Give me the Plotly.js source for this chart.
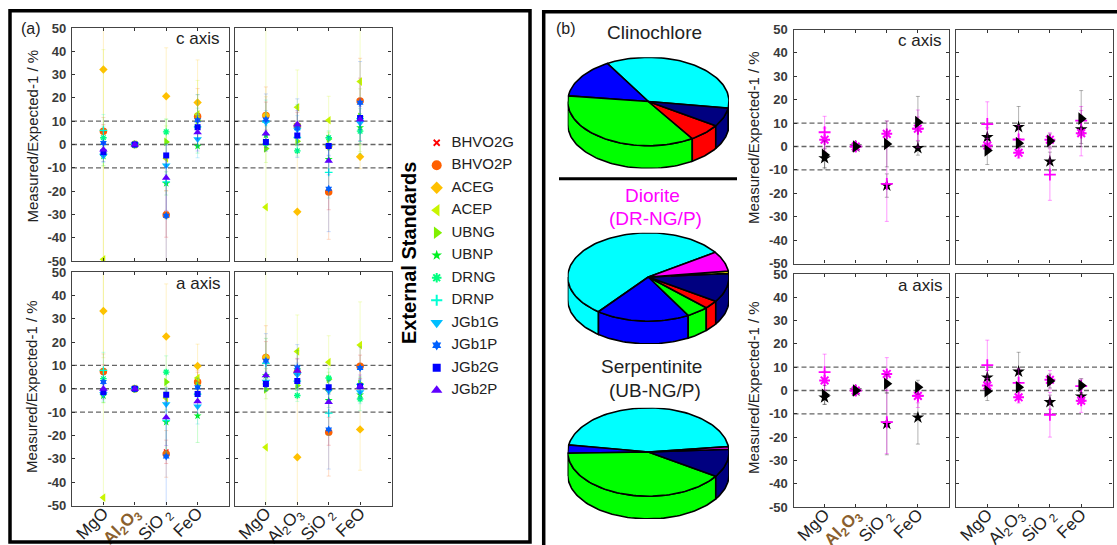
<!DOCTYPE html>
<html>
<head>
<meta charset="utf-8">
<script src="https://cdn.plot.ly/plotly-3.0.1.min.js"></script>
<style>html,body{margin:0;padding:0;background:#fff}#chart{width:1117px;height:545px}</style>
</head>
<body>
<div id="chart"></div>
<script>
// ---------- data ----------
const seriesNames = ['BHVO2G','BHVO2P','ACEG','ACEP','UBNG','UBNP','DRNG','DRNP','JGb1G','JGb1P','JGb2G','JGb2P'];
const categories = ['MgO','Al2O3','SiO2','FeO'];
const yTicks = [-50,-40,-30,-20,-10,0,10,20,30,40,50];
const refLevels = [-10,0,10];

// rows follow seriesNames, columns follow categories (percent)
const cLeftValues = [
 [5.6,0,-29.8,12.5],[5.7,0,-30.3,12],[32.2,0,20.7,18],[-49.3,0,-6,13],
 [-3.6,0,1.1,10.4],[-5,0,-16.7,-0.7],[2.9,0,5.4,7.6],[6.1,0,-16,7.6],
 [-4.8,0,-9,2.3],[0.6,0,-30.6,10.4],[-3.3,0,-4.7,7.4],[-2.2,0,-14.3,5.2]];
const cLeftErrors = [
 [3,0.5,10,6],[5.9,0.5,25,12],[90,0.5,20.8,18.3],[90,0.5,14,14.5],
 [6,0.5,9.8,11],[4,0.5,5,3],[5,1,5.5,8],[6.8,1,16,5],
 [3,0.5,4,8],[5,0.5,25,11],[4,0.5,5,5],[3,0.5,14,8]];
const cRightValues = [
 [12.2,7.8,-20,18.5],[12.4,7.9,-20.4,18.7],[12.5,-28.9,-1,-5.3],[-26.9,16,10.4,27],
 [-1.7,1.4,2.4,11.9],[4,8.3,-6.4,7.3],[0.4,-2.7,2.9,5.7],[9.6,3,-12,11.1],
 [9.6,6.4,-1,9.3],[10.7,7,-19,17.9],[1.1,3.9,-0.6,11.4],[4.7,8.6,-7,10.7]];
const cRightErrors = [
 [6,6,8,10],[12.3,8,20.3,18.3],[8,25,6,5.1],[90,16,10.3,30],
 [6,2,3,12],[4,8.8,4,6],[3,2.3,3,9.7],[9.5,6,11,6],
 [5,6,4,8],[11,12.6,18.4,17.7],[4,4,4,5],[6,6,6,9]];
const aLeftValues = [
 [7.3,0,-27,3.1],[7.4,0,-27.9,2.9],[33.3,0,22.4,9.7],[-46.6,0,-4,4.6],
 [-1.9,0,2.9,1.4],[-3,0,-14.3,-11.6],[4.3,0,7.1,-2.3],[7.9,0,-13.6,-2.3],
 [-2.3,0,-6.6,-7.6],[2.9,0,-29,0.6],[-1.4,0,-2.6,-2.3],[0,0,-12.3,-5.4]];
const aLeftErrors = [
 [3,0.5,5,4],[7.5,0.5,10,5],[20,0.5,22.5,9.4],[100,0.5,5,5],
 [4,0.5,4,3],[3,0.5,13.3,11.4],[4,0.5,7,5],[7.7,0.5,13.5,3],
 [3,0.5,3,7.5],[3,0.5,25,4],[3,0.5,3,3],[3,0.5,12,5]];
const aRightValues = [
 [13.2,7,-18.2,9.4],[13.4,7,-18.6,9.6],[13.5,-29.3,-0.4,-17.4],[-25.1,16,11.4,18.7],
 [-0.3,1.4,4.1,2.1],[5.6,8.1,-5,-2.6],[2.1,-2.9,4.6,-4.4],[10.9,3.3,-10.4,1.9],
 [3.1,6,-0.9,-1.4],[12,9.1,-17.4,8.9],[2,3.3,0.6,1.1],[5.7,7.7,-5.7,0.9]];
const aRightErrors = [
 [7,6,6,5],[13.6,9,18.8,9],[8,25,5,17.5],[80,15.6,11.3,18.5],
 [4,2,3,3],[3,8.3,3,3],[3,2.5,4,5],[10.7,6,9.6,3],
 [4,5,4,5],[11.6,9.8,17,9],[3,3,3,3],[5,5,5,5]];

// pie shares: degrees of the drawn ellipse, counter-clockwise from the start angle
const clinochloreSlices = [129.2,52.1,130.3,23.7,24.7];
const clinochloreColors = ['#00ffff','#0000ff','#00ff00','#ff0000','#000080'];
const clinochloreStart = 351.4;
const dioriteSlices = [197.9,67.8,16.3,10.8,38,3.1,26.1];
const dioriteColors = ['#00ffff','#0000ff','#00ff00','#ff0000','#000080','#ffff00','#ff00ff'];
const dioriteStart = 33.9;
const serpentiniteSlices = [163.8,10.9,145,36.8,3.5];
const serpentiniteColors = ['#00ffff','#0000ff','#00ff00','#000080','#ff00ff'];
const serpentiniteStart = 7;

// ---------- styles ----------
const W = 1117, H = 545;
const FONT = '"Liberation Sans", Arial, sans-serif';
const seriesColors = ['255,0,0','255,96,0','255,192,0','200,245,0','128,240,0','0,240,32','0,255,128','0,255,210','0,190,255','0,96,255','0,0,255','96,0,255'];
const seriesSymbols = ['x-thin-open','circle','diamond','triangle-left','triangle-right','star','asterisk-open','cross-thin-open','triangle-down','hexagram','square','triangle-up'];
const seriesSizes = [4.5,7.5,6.5,7.5,7.5,6,5.5,5.5,7.5,6,6,7.5];
const legendSizes = [6,10,9.5,11,11,8,8,8,11,8,8,10];
const openSymbols = [0,6,7];

const traces = [], shapes = [], annotations = [];
const layout = {
  width: W, height: H, autosize: false, showlegend: false,
  margin: {l:0,r:0,t:0,b:0,pad:0},
  paper_bgcolor: '#fff', plot_bgcolor: '#fff',
  font: {family: FONT, color: '#222'}, shapes, annotations
};

function px(x0,x1,y0,y1){ return {x:[x0/W,x1/W], y:[1-y1/H,1-y0/H]}; }
function note(text,x,y,size,opts){
  annotations.push(Object.assign({text,xref:'paper',yref:'paper',x:x/W,y:1-y/H,showarrow:false,
    xanchor:'center',yanchor:'middle',font:{size,family:FONT,color:'#222'}},opts||{}));
}

let axisIndex = 0;
function newAxes(box, xOpts, yOpts){
  axisIndex++;
  const n = axisIndex === 1 ? '' : String(axisIndex);
  const d = px(...box);
  layout['xaxis'+n] = Object.assign({domain:d.x, anchor:'y'+n}, xOpts);
  layout['yaxis'+n] = Object.assign({domain:d.y, anchor:'x'+n}, yOpts);
  return {x:'x'+n, y:'y'+n};
}

const plainLabels = ['MgO','Al<sub>2</sub>O<sub>3</sub>','SiO<sub> 2</sub>','FeO'];
const brownLabels = ['MgO','<b><span style="color:#8a5f2e">Al<sub>2</sub>O<sub>3</sub></span></b>','SiO<sub> 2</sub>','FeO'];

function panel(box, opts){
  const frame = {showline:true, mirror:'ticks', linecolor:'#444', linewidth:1.2, ticks:'inside',
    ticklen:3, tickwidth:1, tickcolor:'#333', showgrid:false, zeroline:false, fixedrange:true};
  const a = newAxes(box,
    Object.assign({}, frame, {range:[0,5], tickmode:'array', tickvals:[1,2,3,4], ticktext:opts.labels||categories,
      showticklabels:!!opts.labels, tickangle:-45, ticklabelstandoff:-10, tickfont:{size:17,color:'#222',family:FONT}}),
    Object.assign({}, frame, {range:[-50,50], tickmode:'array', tickvals:yTicks, ticktext:yTicks.map(String),
      showticklabels:!!opts.yLabels, ticklabelstandoff:2, tickfont:{size:13,color:'#3a3a3a',family:FONT,weight:700}}));
  refLevels.forEach(v => shapes.push({type:'line', layer:'below', xref:a.x+' domain', yref:a.y, x0:0, x1:1, y0:v, y1:v,
    line:{color:'#666', width:v===0?1.6:1.3, dash:'5px,3px'}}));
  return a;
}

function rainbowPanel(box, values, errors, opts){
  const a = panel(box, opts);
  seriesNames.forEach((name,i) => {
    const open = openSymbols.includes(i);
    traces.push({type:'scatter', mode:'markers', name, xaxis:a.x, yaxis:a.y, x:[1,2,3,4], y:values[i],
      error_y:{type:'data', array:errors[i], visible:true, color:`rgba(${seriesColors[i]},0.22)`, thickness:1, width:2},
      marker:{symbol:seriesSymbols[i], size:seriesSizes[i], color:`rgb(${seriesColors[i]})`,
        line: open ? {color:`rgb(${seriesColors[i]})`, width:1.3} : {width:0}}});
  });
}

// panel (b) repeats UB and DR series, recoloured by rock
function rockPanel(box, values, errors, opts){
  const a = panel(box, opts);
  const styles = {
    5:{symbol:'star', size:9.5, color:'#000', err:'rgba(0,0,0,0.3)', line:{width:0}},
    6:{symbol:'asterisk-open', size:9, color:'#ff00ff', err:'rgba(255,0,255,0.4)', line:{color:'#ff00ff',width:2}},
    7:{symbol:'cross-thin-open', size:8.5, color:'#ff00ff', err:'rgba(255,0,255,0.4)', line:{color:'#ff00ff',width:1.8}},
    4:{symbol:'triangle-right', size:11, color:'#000', err:'rgba(0,0,0,0.3)', line:{width:0}}
  };
  [5,6,7,4].forEach(i => {
    const s = styles[i];
    traces.push({type:'scatter', mode:'markers', name:seriesNames[i], xaxis:a.x, yaxis:a.y, x:[1,2,3,4], y:values[i],
      error_y:{type:'data', array:errors[i], visible:true, color:s.err, thickness:1, width:2},
      marker:{symbol:s.symbol, size:s.size, color:s.color, line:s.line}});
  });
}

rainbowPanel([72,229,28,261], cLeftValues, cLeftErrors, {yLabels:true});
rainbowPanel([234.5,391.5,28,261], cRightValues, cRightErrors, {});
rainbowPanel([72,229,272,505.5], aLeftValues, aLeftErrors, {yLabels:true, labels:brownLabels});
rainbowPanel([234.5,391.5,272,505.5], aRightValues, aRightErrors, {labels:plainLabels});
rockPanel([793.5,949,29.5,263.5], cLeftValues, cLeftErrors, {yLabels:true});
rockPanel([956,1112.5,29.5,263.5], cRightValues, cRightErrors, {});
rockPanel([793.5,949,274,507], aLeftValues, aLeftErrors, {yLabels:true, labels:brownLabels});
rockPanel([956,1112.5,274,507], aRightValues, aRightErrors, {labels:plainLabels});

// ---------- legend ----------
const hidden = {visible:false, fixedrange:true};
const lg = newAxes([425,530,131.5,401.5],
  Object.assign({range:[425,530]},hidden), Object.assign({range:[11.5,-0.5]},hidden));
const rows = seriesNames.map((_,i)=>i);
seriesNames.forEach((name,i) => {
  const open = openSymbols.includes(i);
  traces.push({type:'scatter', mode:'markers', name, xaxis:lg.x, yaxis:lg.y, x:[436.7], y:[i], hoverinfo:'name',
    marker:{symbol:seriesSymbols[i], size:legendSizes[i], color:`rgb(${seriesColors[i]})`,
      line: open ? {color:`rgb(${seriesColors[i]})`, width:i===0?1.8:2} : {width:0}}});
});
traces.push({type:'scatter', mode:'text', xaxis:lg.x, yaxis:lg.y, x:rows.map(()=>451.5), y:rows, text:seriesNames,
  textposition:'middle right', textfont:{size:15,family:FONT,color:'#222'}, hoverinfo:'skip', cliponaxis:false});

// ---------- 3-D pies ----------
const TILT = 0.545, DEPTH = 0.28;
function arc(a0,a1,drop){
  const out = {x:[],y:[]}, n = Math.max(2,Math.ceil(Math.abs(a1-a0)/2));
  for(let k=0;k<=n;k++){
    const t = (a0+(a1-a0)*k/n)*Math.PI/180;
    out.x.push(Math.cos(t)); out.y.push(TILT*Math.sin(t)-drop);
  }
  return out;
}
function pie(box, slices, colors, start){
  const a = newAxes(box, Object.assign({range:[-1,1]},hidden), Object.assign({range:[-TILT-DEPTH,TILT]},hidden));
  const spans = []; let cur = start;
  slices.forEach((v,i)=>{ spans.push({a0:cur,a1:cur+v,color:colors[i]}); cur += v; });
  const outline = {color:'#000', width:1.6};
  // side wall: only the part of each slice on the front half of the ellipse
  spans.forEach(s => {
    [0,360].forEach(shift => {
      const lo = Math.max(s.a0, 180+shift), hi = Math.min(s.a1, 360+shift);
      if(hi <= lo) return;
      const top = arc(lo,hi,0), bot = arc(hi,lo,DEPTH);
      traces.push({type:'scatter', mode:'lines', xaxis:a.x, yaxis:a.y, cliponaxis:false, hoverinfo:'skip',
        x:top.x.concat(bot.x,[top.x[0]]), y:top.y.concat(bot.y,[top.y[0]]),
        fill:'toself', fillcolor:s.color, line:outline});
    });
  });
  // top face
  spans.forEach(s => {
    const t = arc(s.a0,s.a1,0);
    traces.push({type:'scatter', mode:'lines', xaxis:a.x, yaxis:a.y, cliponaxis:false, hoverinfo:'skip',
      x:[0].concat(t.x,[0]), y:[0].concat(t.y,[0]), fill:'toself', fillcolor:s.color, line:outline});
  });
}
const pieH = r => [r-44.2, r+44.2+22.7];
pie([567.7,729,...pieH(101.5)], clinochloreSlices, clinochloreColors, clinochloreStart);
pie([567.7,729,...pieH(277)], dioriteSlices, dioriteColors, dioriteStart);
pie([567.7,729,...pieH(452)], serpentiniteSlices, serpentiniteColors, serpentiniteStart);

// ---------- frames and divider ----------
function rect(x0,y0,x1,y1,w){
  shapes.push({type:'rect', xref:'paper', yref:'paper', x0:x0/W, x1:x1/W, y0:1-y0/H, y1:1-y1/H, line:{color:'#000',width:w}, layer:'above'});
}
rect(10,10.7,530,542,3.5);
rect(543.7,11.7,1130,560,3.5);
shapes.push({type:'line', xref:'paper', yref:'paper', x0:559/W, x1:737/W, y0:1-178.7/H, y1:1-178.7/H, line:{color:'#000',width:3}});

// ---------- text ----------
const yTitle = 'Measured/Expected-1 / %';
note(yTitle,31.5,136,15,{textangle:-90});
note(yTitle,31.5,386.5,15,{textangle:-90});
note(yTitle,753,138,15,{textangle:-90});
note(yTitle,753,388,15,{textangle:-90});
note('(a)',30.5,28.5,16);
note('(b)',566,28.5,16);
note('c axis',221,38.5,17,{xanchor:'right'});
note('a axis',222,283,17,{xanchor:'right'});
note('c axis',943,40,17,{xanchor:'right'});
note('a axis',944,285,17,{xanchor:'right'});
note('<b>External Standards</b>',409,253,20,{textangle:-90,font:{size:20,family:FONT,color:'#000'}});
note('Clinochlore',654.5,32,19);
note('Diorite',652.3,195,19,{font:{size:19,family:FONT,color:'#ff00ff'}});
note('(DR-NG/P)',655,218,19,{font:{size:19,family:FONT,color:'#ff00ff'}});
note('Serpentinite',651.7,366.7,19);
note('(UB-NG/P)',655,390,19);

Plotly.newPlot('chart', traces, layout, {displayModeBar:false, responsive:false});
</script>
</body>
</html>
